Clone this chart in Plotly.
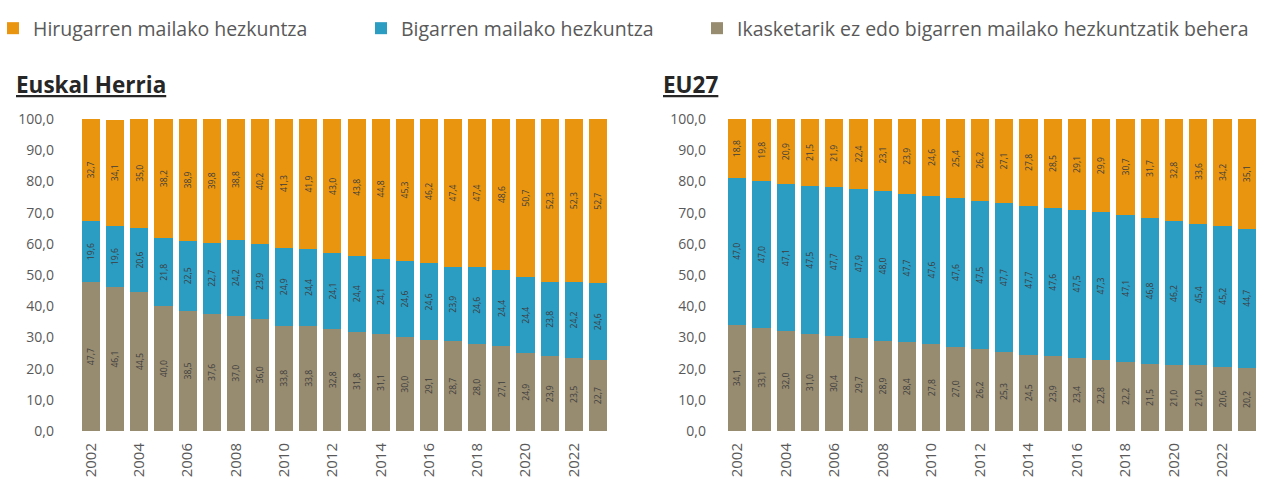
import plotly.graph_objects as go
from plotly.subplots import make_subplots

years = list(range(2002, 2024))

# Euskal Herria: share of population (%) by highest education level
eh_tertiary = [32.7, 34.1, 35.0, 38.2, 38.9, 39.8, 38.8, 40.2, 41.3, 41.9, 43.0,
               43.8, 44.8, 45.3, 46.2, 47.4, 47.4, 48.6, 50.7, 52.3, 52.3, 52.7]
eh_secondary = [19.6, 19.6, 20.6, 21.8, 22.5, 22.7, 24.2, 23.9, 24.9, 24.4, 24.1,
                24.4, 24.1, 24.6, 24.6, 23.9, 24.6, 24.4, 24.4, 23.8, 24.2, 24.6]
eh_low = [47.7, 46.1, 44.5, 40.0, 38.5, 37.6, 37.0, 36.0, 33.8, 33.8, 32.8,
          31.8, 31.1, 30.0, 29.1, 28.7, 28.0, 27.1, 24.9, 23.9, 23.5, 22.7]

# EU27
eu_tertiary = [18.8, 19.8, 20.9, 21.5, 21.9, 22.4, 23.1, 23.9, 24.6, 25.4, 26.2,
               27.1, 27.8, 28.5, 29.1, 29.9, 30.7, 31.7, 32.8, 33.6, 34.2, 35.1]
eu_secondary = [47.0, 47.0, 47.1, 47.5, 47.7, 47.9, 48.0, 47.7, 47.6, 47.6, 47.5,
                47.7, 47.7, 47.6, 47.5, 47.3, 47.1, 46.8, 46.2, 45.4, 45.2, 44.7]
eu_low = [34.1, 33.1, 32.0, 31.0, 30.4, 29.7, 28.9, 28.4, 27.8, 27.0, 26.2,
          25.3, 24.5, 23.9, 23.4, 22.8, 22.2, 21.5, 21.0, 21.0, 20.6, 20.2]

series_names = [
    "Ikasketarik ez edo bigarren mailako hezkuntzatik behera",
    "Bigarren mailako hezkuntza",
    "Hirugarren mailako hezkuntza",
]
panel_titles = ["Euskal Herria", "EU27"]
y_ticks = [0, 10, 20, 30, 40, 50, 60, 70, 80, 90, 100]
x_ticks = list(range(2002, 2023, 2))

colors = ["#978B70", "#2B9CC2", "#E9950F"]
FONT = "Open Sans"
GREY = "#595959"


def fmt(v):
    return f"{v:.1f}".replace(".", ",")


fig = make_subplots(rows=1, cols=2)

panels = [(eh_low, eh_secondary, eh_tertiary), (eu_low, eu_secondary, eu_tertiary)]
legend_ids = ["legend3", "legend2", "legend"]
for col, data in enumerate(panels, start=1):
    for i, vals in enumerate(data):
        fig.add_trace(
            go.Bar(
                x=years,
                y=vals,
                name=series_names[i],
                marker=dict(color=colors[i], line=dict(width=0)),
                text=[fmt(v) for v in vals],
                textposition="inside",
                insidetextanchor="middle",
                textangle=-90,
                textfont=dict(family=FONT, size=12, color="#3d3d3d"),
                showlegend=(col == 1),
                legend=legend_ids[i],
                hoverinfo="skip",
            ),
            row=1, col=col,
        )

y0, y1 = 1 - 431 / 490, 1 - 119 / 490
fig.update_layout(
    barmode="stack",
    bargap=0.25,
    width=1261,
    height=490,
    margin=dict(l=0, r=0, t=0, b=0, autoexpand=False),
    paper_bgcolor="white",
    plot_bgcolor="white",
    font=dict(family=FONT, color=GREY),
    uniformtext=dict(mode="show", minsize=8),
    xaxis=dict(domain=[79 / 1261, 610 / 1261]),
    xaxis2=dict(domain=[725 / 1261, 1259 / 1261]),
    yaxis=dict(domain=[y0, y1], ticklabelstandoff=24),
    yaxis2=dict(domain=[y0, y1], ticklabelstandoff=18),
)

legend_x = [-7 / 1261, 361 / 1261, 697 / 1261]
for lid, lx in zip(["legend", "legend2", "legend3"], legend_x):
    fig.update_layout({lid: dict(
        x=lx, y=1 - 9 / 490, xanchor="left", yanchor="top",
        orientation="h", itemwidth=30,
        font=dict(family=FONT, size=19.5, color=GREY),
        bgcolor="rgba(0,0,0,0)",
    )})

fig.update_xaxes(
    range=[2001.5, 2023.5],
    tickmode="array", tickvals=x_ticks, ticktext=[str(t) for t in x_ticks],
    tickangle=-90, tickfont=dict(family=FONT, size=15, color=GREY),
    showgrid=False, showline=False, zeroline=False, ticks="",
    ticklabelstandoff=8, automargin=False,
)
fig.update_yaxes(
    range=[0, 100],
    tickmode="array", tickvals=y_ticks, ticktext=[fmt(t) for t in y_ticks],
    tickfont=dict(family=FONT, size=14, color=GREY),
    showgrid=False, showline=False, zeroline=False, ticks="",
    automargin=False,
)

title_pos = [14 / 1261, 661 / 1261]
for t, tx in zip(panel_titles, title_pos):
    fig.add_annotation(
        text=f"<b>{t}</b>", x=tx, y=1 - 102 / 490, xref="paper", yref="paper",
        xanchor="left", yanchor="bottom", showarrow=False,
        font=dict(family=FONT, size=22.5, color="#262626", lineposition="under"),
    )

fig.write_html("out.html")
